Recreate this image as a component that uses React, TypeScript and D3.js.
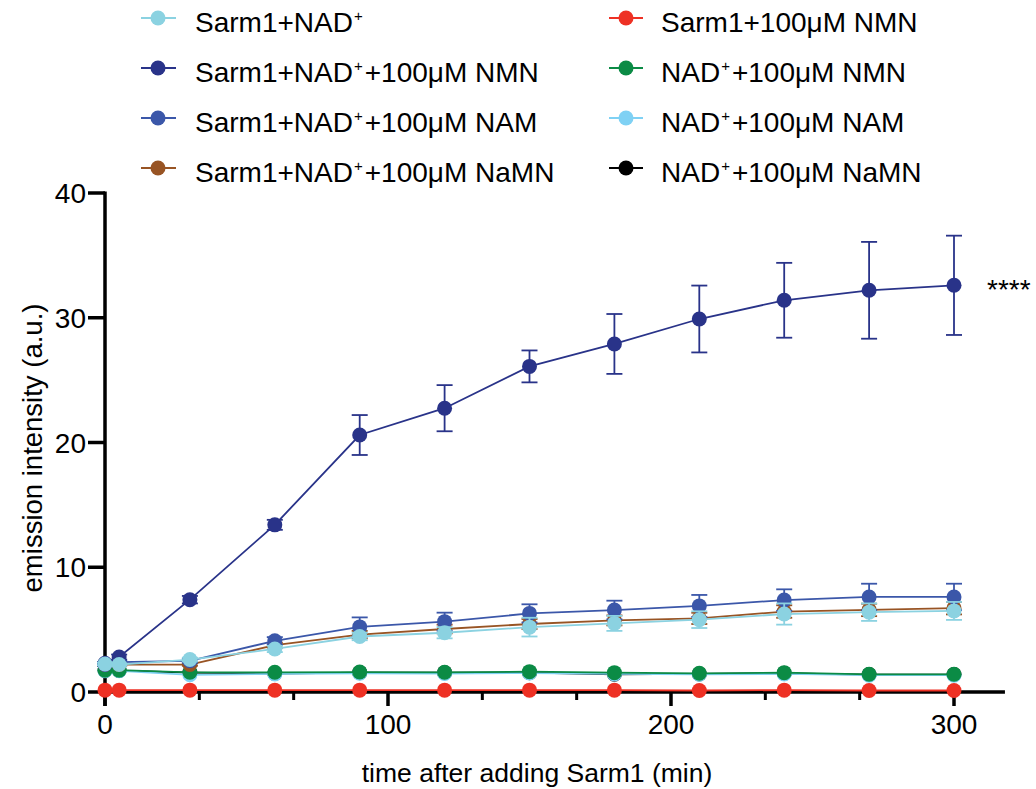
import React from "react";
import * as d3 from "d3";

// ---- data ----
const times = [0, 5, 30, 60, 90, 120, 150, 180, 210, 240, 270, 300];

const sarm1Nad = [2.25, 2.2, 2.6, 3.45, 4.45, 4.75, 5.2, 5.5, 5.8, 6.25, 6.4, 6.5];
const sarm1NadErr = [0.1, 0.1, 0.15, 0.25, 0.3, 0.45, 0.75, 0.6, 0.67, 0.85, 0.7, 0.72];

const sarm1NadNmn = [2.3, 2.8, 7.4, 13.4, 20.6, 22.75, 26.1, 27.9, 29.9, 31.4, 32.2, 32.6];
const sarm1NadNmnErr = [0.1, 0.2, 0.3, 0.4, 1.6, 1.85, 1.28, 2.4, 2.68, 3.0, 3.88, 3.98];

const sarm1NadNam = [2.2, 2.4, 2.5, 4.1, 5.22, 5.64, 6.3, 6.57, 6.9, 7.37, 7.62, 7.62];
const sarm1NadNamErr = [0.1, 0.1, 0.15, 0.3, 0.76, 0.72, 0.73, 0.75, 0.88, 0.86, 1.06, 1.06];

const sarm1NadNamn = [2.2, 2.2, 2.2, 3.75, 4.6, 5.05, 5.45, 5.74, 5.9, 6.45, 6.58, 6.72];
const sarm1NadNamnErr = [0.1, 0.1, 0.1, 0.2, 0.3, 0.35, 0.4, 0.4, 0.45, 0.5, 0.5, 0.5];

const sarm1Nmn = [0.15, 0.15, 0.15, 0.15, 0.15, 0.15, 0.15, 0.15, 0.12, 0.15, 0.12, 0.12];
const nadNmn = [1.75, 1.75, 1.58, 1.58, 1.6, 1.58, 1.63, 1.55, 1.5, 1.55, 1.42, 1.42];
const nadNam = [1.7, 1.7, 1.38, 1.45, 1.5, 1.48, 1.52, 1.45, 1.42, 1.45, 1.35, 1.35];
const nadNamn = [1.72, 1.72, 1.55, 1.48, 1.55, 1.55, 1.55, 1.42, 1.45, 1.5, 1.4, 1.4];

const xMajorTicks = [0, 100, 200, 300];
const xMinorTicks = [100 / 3, 200 / 3, 400 / 3, 500 / 3, 700 / 3, 800 / 3];
const yTicks = [0, 10, 20, 30, 40];

type Series = {
  name: string;
  base: string;
  sup: boolean;
  rest: string;
  values: number[];
  err: number[] | null;
  color: string;
  col: number;
  row: number;
};

const series: Series[] = [
  { name: "Sarm1+NAD+", base: "Sarm1+NAD", sup: true, rest: "", values: sarm1Nad, err: sarm1NadErr, color: "#8BD2E1", col: 0, row: 0 },
  { name: "Sarm1+NAD+ +100μM NMN", base: "Sarm1+NAD", sup: true, rest: "+100μM NMN", values: sarm1NadNmn, err: sarm1NadNmnErr, color: "#293389", col: 0, row: 1 },
  { name: "Sarm1+NAD+ +100μM NAM", base: "Sarm1+NAD", sup: true, rest: "+100μM NAM", values: sarm1NadNam, err: sarm1NadNamErr, color: "#3B57A9", col: 0, row: 2 },
  { name: "Sarm1+NAD+ +100μM NaMN", base: "Sarm1+NAD", sup: true, rest: "+100μM NaMN", values: sarm1NadNamn, err: sarm1NadNamnErr, color: "#985424", col: 0, row: 3 },
  { name: "Sarm1+100μM NMN", base: "Sarm1+100μM NMN", sup: false, rest: "", values: sarm1Nmn, err: null, color: "#EE3124", col: 1, row: 0 },
  { name: "NAD+ +100μM NMN", base: "NAD", sup: true, rest: "+100μM NMN", values: nadNmn, err: null, color: "#0B8B45", col: 1, row: 1 },
  { name: "NAD+ +100μM NAM", base: "NAD", sup: true, rest: "+100μM NAM", values: nadNam, err: null, color: "#7FD1F4", col: 1, row: 2 },
  { name: "NAD+ +100μM NaMN", base: "NAD", sup: true, rest: "+100μM NaMN", values: nadNamn, err: null, color: "#000000", col: 1, row: 3 },
];

const FONT = "'Liberation Sans', Arial, Helvetica, sans-serif";

export default function App() {
  const W = 1036;
  const H = 789;
  const x = d3.scaleLinear().domain([0, 300]).range([105, 954]);
  const y = d3.scaleLinear().domain([0, 40]).range([692, 193]);
  const line = d3
    .line<number>()
    .x((_, i) => x(times[i]))
    .y((v) => y(v));

  const xEnd = x(318);
  const R = 7.5;
  const capHalf = 8;

  const legendCols = [
    { cx: 158, x1: 141, x2: 176, tx: 195 },
    { cx: 626, x1: 609, x2: 643, tx: 661 },
  ];
  const rowBase = (r: number) => 32 + 50 * r;

  const drawOrder = [...series].reverse();

  return (
    <svg
      width={W}
      height={H}
      style={{ position: "absolute", left: 0, top: 0, background: "#fff" }}
      fontFamily={FONT}
    >
      <rect x={0} y={0} width={W} height={H} fill="#fff" />
      {/* Legend */}
      {series.map((s) => {
        const c = legendCols[s.col];
        const b = rowBase(s.row);
        const my = b - 14;
        return (
          <g key={"leg" + s.name}>
            <line x1={c.x1} x2={c.x2} y1={my} y2={my} stroke={s.color} strokeWidth={1.8} />
            <circle cx={c.cx} cy={my} r={R} fill={s.color} />
            <text x={c.tx} y={b} fontSize={28} fill="#000">
              {s.base}
              {s.sup && (
                <tspan fontSize={15} dy={-11} dx={1}>
                  +
                </tspan>
              )}
              {s.rest && (
                <tspan dy={s.sup ? 11 : 0} dx={2}>
                  {s.rest}
                </tspan>
              )}
            </text>
          </g>
        );
      })}

      {/* Axes */}
      <g stroke="#000" strokeLinecap="butt">
        <line x1={x(0)} x2={x(0)} y1={y(40) - 1.5} y2={y(0) + 14} strokeWidth={3.5} />
        <line x1={x(0) - 1.75} x2={xEnd} y1={y(0)} y2={y(0)} strokeWidth={3.5} />
        {yTicks.map((t) => (
          <line key={"yt" + t} x1={x(0) - 17} x2={x(0)} y1={y(t)} y2={y(t)} strokeWidth={3.5} />
        ))}
        {xMajorTicks.map((t) => (
          <line key={"xt" + t} x1={x(t)} x2={x(t)} y1={y(0)} y2={y(0) + 14} strokeWidth={3.5} />
        ))}
        {xMinorTicks.map((t, i) => (
          <line key={"xm" + i} x1={x(t)} x2={x(t)} y1={y(0)} y2={y(0) + 8} strokeWidth={3} />
        ))}
      </g>
      {yTicks.map((t) => (
        <text key={"yl" + t} x={x(0) - 19} y={y(t)} dy="0.36em" textAnchor="end" fontSize={28} fill="#000">
          {t}
        </text>
      ))}
      {xMajorTicks.map((t) => (
        <text key={"xl" + t} x={x(t)} y={y(0) + 42} textAnchor="middle" fontSize={28} fill="#000">
          {t}
        </text>
      ))}
      <text x={537} y={782} textAnchor="middle" fontSize={26.5} fill="#000">
        time after adding Sarm1 (min)
      </text>
      <text
        transform={`translate(42, 448) rotate(-90)`}
        textAnchor="middle"
        fontSize={27.5}
        fill="#000"
      >
        emission intensity (a.u.)
      </text>

      {/* Data */}
      {drawOrder.map((s) => (
        <g key={"ser" + s.name}>
          <path d={line(s.values) || ""} fill="none" stroke={s.color} strokeWidth={1.8} />
          {s.err &&
            s.values.map((v, i) => {
              const e = s.err![i];
              const cx = x(times[i]);
              return (
                <g key={"e" + i} stroke={s.color} strokeWidth={1.8}>
                  <line x1={cx} x2={cx} y1={y(v + e)} y2={y(v - e)} />
                  <line x1={cx - capHalf} x2={cx + capHalf} y1={y(v + e)} y2={y(v + e)} />
                  <line x1={cx - capHalf} x2={cx + capHalf} y1={y(v - e)} y2={y(v - e)} />
                </g>
              );
            })}
          {s.values.map((v, i) => (
            <circle key={"c" + i} cx={x(times[i])} cy={y(v)} r={R} fill={s.color} />
          ))}
        </g>
      ))}

      <text x={987} y={299} fontSize={28} fill="#000">
        ****
      </text>
    </svg>
  );
}
